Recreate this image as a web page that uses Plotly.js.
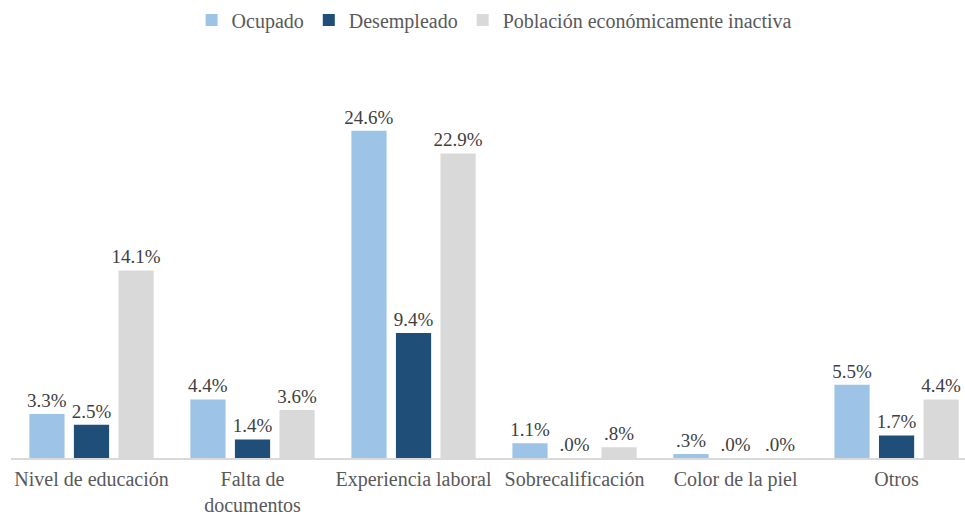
<!DOCTYPE html>
<html>
<head>
<meta charset="utf-8">
<script src="https://cdn.plot.ly/plotly-3.0.1.min.js"></script>
<style>html,body{margin:0;padding:0;background:#fff;}#chart{width:965px;height:515px;}</style>
</head>
<body>
<div id="chart"></div>
<script>
const categories = ["Nivel de educación", "Falta de<br>documentos", "Experiencia laboral", "Sobrecalificación", "Color de la piel", "Otros"];
const seriesNames = ["Ocupado", "Desempleado", "Población económicamente inactiva"];
const ocupado = [3.3, 4.4, 24.6, 1.1, 0.3, 5.5];
const desempleado = [2.5, 1.4, 9.4, 0.0, 0.0, 1.7];
const inactiva = [14.1, 3.6, 22.9, 0.8, 0.0, 4.4];
const colors = ["#9DC3E6", "#1F4E79", "#D9D9D9"];

function fmt(v) {
  let s = v.toFixed(1);
  if (s.startsWith("0")) s = s.slice(1);
  return s + "%";
}

const family = "'Liberation Serif', 'Times New Roman', serif";
const bigFont = {family: family, size: 20, color: "#595959"};
const labelFont = {family: family, size: 19, color: "#404040"};

const data = [ocupado, desempleado, inactiva].map((vals, i) => ({
  type: "bar",
  name: seriesNames[i],
  x: categories,
  y: vals,
  text: vals.map(fmt),
  textposition: "outside",
  constraintext: "none",
  cliponaxis: false,
  textfont: labelFont,
  outsidetextfont: labelFont,
  marker: {color: colors[i]},
  hoverinfo: "none"
}));

const layout = {
  width: 965,
  height: 515,
  margin: {l: 11, r: 0, t: 59, b: 57, autoexpand: false},
  paper_bgcolor: "#fff",
  plot_bgcolor: "#fff",
  font: bigFont,
  barmode: "group",
  bargap: 0.17,
  bargroupgap: 0.21,
  showlegend: true,
  legend: {
    orientation: "h",
    x: 0.512,
    xref: "container",
    xanchor: "center",
    y: 0.961,
    yref: "container",
    yanchor: "middle",
    font: bigFont,
    tracegroupgap: 0
  },
  xaxis: {
    type: "category",
    range: [-0.5, 5.425],
    showline: true,
    linecolor: "#D9D9D9",
    linewidth: 1.5,
    ticks: "",
    tickfont: bigFont,
    ticklabelstandoff: 2,
    showgrid: false,
    automargin: false,
    fixedrange: true
  },
  yaxis: {
    range: [0, 30],
    visible: false,
    showgrid: false,
    zeroline: false,
    fixedrange: true
  }
};

Plotly.newPlot("chart", data, layout, {displayModeBar: false, staticPlot: true});
</script>
</body>
</html>
